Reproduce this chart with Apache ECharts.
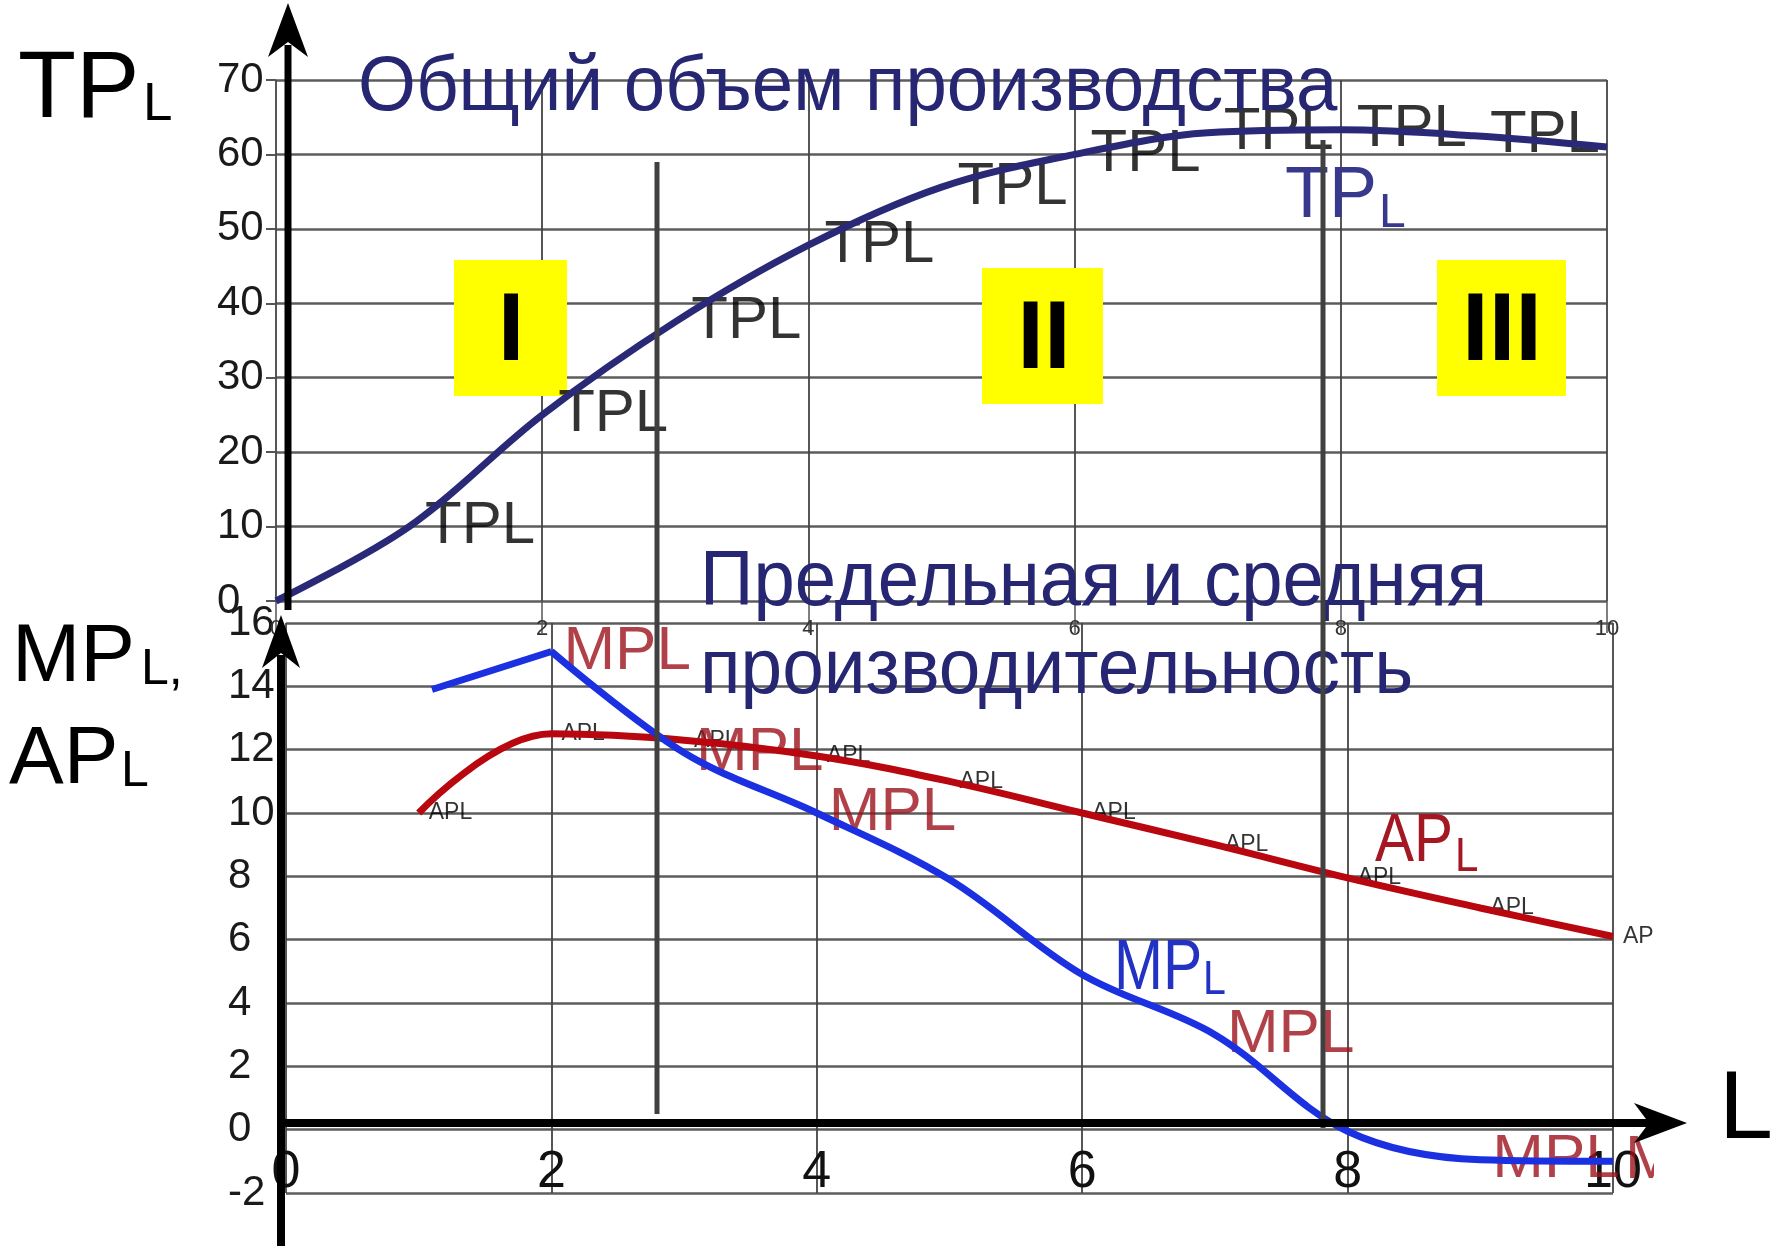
<!DOCTYPE html>
<html><head><meta charset="utf-8">
<script src="https://cdn.jsdelivr.net/npm/echarts@6/dist/echarts.min.js"></script>
<style>html,body{margin:0;padding:0;background:#fff}#c{width:1777px;height:1246px}</style>
</head><body><div id="c"></div>
<script>
// ---------- data ----------
const labourX      = [0, 1, 2, 3, 4, 5, 6, 7, 8, 9, 10];
const tpValues     = [0, 10, 25, 37.5, 47.8, 55.6, 60, 62.9, 63.3, 62.5, 61];
const tpLabelX     = [1, 2, 3, 4, 5, 6, 7, 8, 9];
const apX          = [1, 2, 3, 4, 5, 6, 7, 8, 9, 10];
const apValues     = [10, 12.5, 12.3, 11.8, 11.0, 10.0, 9.0, 7.95, 7.0, 6.1];
const mpRiseX      = [1.1, 2];
const mpRiseValues = [13.9, 15.1];
const mpFallX      = [2, 3, 4, 5, 6, 7, 8, 9, 10];
const mpFallValues = [15.1, 11.9, 10.0, 7.9, 4.9, 3.0, -0.05, -0.95, -1.0];
const mpLabelX     = [2, 3, 4, 7, 9, 10];
const xTicks       = [0, 2, 4, 6, 8, 10];
const tpTicks      = [0, 10, 20, 30, 40, 50, 60, 70];
const mpTicks      = [-2, 0, 2, 4, 6, 8, 10, 12, 14, 16];

const FONT = "'Liberation Sans', Arial, sans-serif";
const pairs = (xs, ys) => xs.map((x, i) => [x, ys[i]]);
const tpData = pairs(labourX, tpValues);
const tpLabelData = tpLabelX.map(x => [x, tpValues[labourX.indexOf(x)]]);
const apData = pairs(apX, apValues);
const mpRise = pairs(mpRiseX, mpRiseValues);
const mpFall = pairs(mpFallX, mpFallValues);
const mpLabelData = mpLabelX.map(x => [x, mpFallValues[mpFallX.indexOf(x)]]);

function step(t){ return t[1]-t[0]; }

const chart = echarts.init(document.getElementById('c'), null, {renderer:'canvas'});

function txt(text, x, y, size, color, extra){
  return Object.assign({
    type:'text', x:x, y:y, z:3, silent:true,
    style:{text:text, fontSize:size, fontFamily:FONT, fill:color,
           align:'left', verticalAlign:'top', textAlign:'left', textVerticalAlign:'top'}
  }, extra||{});
}
function roman(text, cx, y){
  return {type:'text', x:cx, y:y, z:1, silent:true,
    style:{text:text, fontSize:96, fontWeight:'bold', fontFamily:FONT, fill:'#000',
           align:'center', textAlign:'center', verticalAlign:'top', textVerticalAlign:'top'}};
}

const option = {
  animation:false,
  backgroundColor:'#ffffff',
  textStyle:{fontFamily:FONT},
  grid:[
    {left:276, top:80, width:1331, height:521},
    {left:286, top:623, width:1327, height:570}
  ],
  xAxis:[
    {type:'value', gridIndex:0, min:xTicks[0], max:xTicks[xTicks.length-1], interval:step(xTicks),
     axisLine:{show:false},
     axisTick:{show:true, length:32, lineStyle:{color:'#555', width:1.5}},
     axisLabel:{fontSize:22, color:'#333', margin:17, fontFamily:FONT},
     splitLine:{show:true, lineStyle:{color:'#444', width:1.8}}},
    {type:'value', gridIndex:1, min:xTicks[0], max:xTicks[xTicks.length-1], interval:step(xTicks),
     position:'bottom',
     axisLine:{show:false, onZero:false},
     axisTick:{show:false},
     axisLabel:{inside:true, fontSize:52, color:'#111', margin:-6, fontFamily:FONT},
     splitLine:{show:true, lineStyle:{color:'#444', width:1.8}}}
  ],
  yAxis:[
    {type:'value', gridIndex:0, min:tpTicks[0], max:tpTicks[tpTicks.length-1], interval:step(tpTicks),
     axisLine:{show:false},
     axisTick:{show:true, length:10, lineStyle:{color:'#555', width:2}},
     axisLabel:{fontSize:42, color:'#1a1a1a', align:'left', margin:59, fontFamily:FONT},
     splitLine:{show:true, lineStyle:{color:'#5c5c5c', width:2.5}}},
    {type:'value', gridIndex:1, min:mpTicks[0], max:mpTicks[mpTicks.length-1], interval:step(mpTicks),
     axisLine:{show:false},
     axisTick:{show:false},
     axisLabel:{fontSize:42, color:'#1a1a1a', align:'left', margin:58, fontFamily:FONT},
     splitLine:{show:true, lineStyle:{color:'#5c5c5c', width:2.5}}}
  ],
  series:[
    {type:'line', xAxisIndex:0, yAxisIndex:0, data:tpData, smooth:0.35, symbol:'none', silent:true,
     lineStyle:{color:'#292978', width:7}},
    {type:'scatter', xAxisIndex:0, yAxisIndex:0, data:tpLabelData, symbolSize:0, silent:true,
     label:{show:true, position:'right', distance:16, formatter:'TPL', fontSize:60, color:'#000', fontFamily:FONT}},
    {type:'line', xAxisIndex:1, yAxisIndex:1, data:apData, smooth:0.4, symbol:'none', silent:true,
     lineStyle:{color:'#b8070f', width:7}},
    {type:'line', xAxisIndex:1, yAxisIndex:1, data:mpRise, smooth:false, symbol:'none', silent:true,
     lineStyle:{color:'#1b30e0', width:7}},
    {type:'line', xAxisIndex:1, yAxisIndex:1, data:mpFall, smooth:0.35, symbol:'none', silent:true,
     lineStyle:{color:'#1b30e0', width:7}},
    {type:'scatter', xAxisIndex:1, yAxisIndex:1, data:apData, symbolSize:0, silent:true,
     label:{show:true, position:'right', distance:10, formatter:'APL', fontSize:23, color:'#000', fontFamily:FONT}},
    {type:'scatter', xAxisIndex:1, yAxisIndex:1, data:mpLabelData, symbolSize:0, silent:true,
     label:{show:true, position:'right', distance:12, formatter:'MPL', fontSize:62, color:'#9c121a', fontFamily:FONT}}
  ],
  graphic:[
    // region boxes
    {type:'rect', z:1, silent:true, shape:{x:454, y:260, width:113, height:136}, style:{fill:'#ffff00'}},
    {type:'rect', z:1, silent:true, shape:{x:982, y:268, width:121, height:136}, style:{fill:'#ffff00'}},
    {type:'rect', z:1, silent:true, shape:{x:1437, y:260, width:129, height:136}, style:{fill:'#ffff00'}},
    roman('I', 511, 286),
    roman('II', 1044, 294),
    roman('III', 1502, 286),
    // titles
    txt('Общий объем производства', 358, 50, 77, '#262673', {scaleX:0.967}),
    txt('Предельная и средняя', 700, 545, 77, '#262673', {scaleX:0.965}),
    txt('производительность', 700, 633, 77, '#262673', {scaleX:0.972}),
    // curve annotations
    txt('TP', 1285, 161, 72, '#38388c'),
    txt('L', 1379, 190, 48, '#38388c'),
    txt('MP', 1114, 935, 70, '#2233c4', {scaleX:0.84}),
    txt('L', 1203, 956, 49, '#2233c4', {scaleX:0.84}),
    txt('AP', 1375, 808, 68, '#a31822', {scaleX:0.86}),
    txt('L', 1455, 833, 49, '#a31822', {scaleX:0.86}),
    // stage dividers
    {type:'line', z:4, silent:true, shape:{x1:657, y1:162, x2:657, y2:1114}, style:{stroke:'#404040', lineWidth:5}},
    {type:'line', z:4, silent:true, shape:{x1:1323, y1:140, x2:1323, y2:1128}, style:{stroke:'#404040', lineWidth:5}},
    // axis titles
    txt('TP', 18, 43, 95, '#000'),
    txt('L', 143, 79, 53, '#000'),
    txt('MP', 12, 617, 82, '#000'),
    txt('L,', 141, 645, 50, '#000'),
    txt('AP', 9, 719, 82, '#000'),
    txt('L', 121, 747, 50, '#000'),
    // hand-drawn axes
    {type:'line', z:10, silent:true, shape:{x1:288, y1:45, x2:288, y2:610}, style:{stroke:'#000', lineWidth:7}},
    {type:'polygon', z:10, silent:true, shape:{points:[[288,3],[308,57],[288,42],[268,57]]}, style:{fill:'#000'}},
    {type:'line', z:10, silent:true, shape:{x1:281, y1:655, x2:281, y2:1246}, style:{stroke:'#000', lineWidth:8}},
    {type:'polygon', z:10, silent:true, shape:{points:[[281,615],[300,668],[281,653],[262,668]]}, style:{fill:'#000'}},
    {type:'line', z:10, silent:true, shape:{x1:277, y1:1123, x2:1650, y2:1123}, style:{stroke:'#000', lineWidth:8}},
    // original picture was cropped on the right
    {type:'rect', z:50, silent:true, shape:{x:1654, y:560, width:123, height:686}, style:{fill:'#fff'}},
    {type:'polygon', z:60, silent:true, shape:{points:[[1687,1123],[1634,1103],[1649,1123],[1634,1143]]}, style:{fill:'#000'}},
    txt('L', 1719, 1063, 97, '#000', {z:60})
  ]
};
chart.setOption(option);
</script></body></html>
